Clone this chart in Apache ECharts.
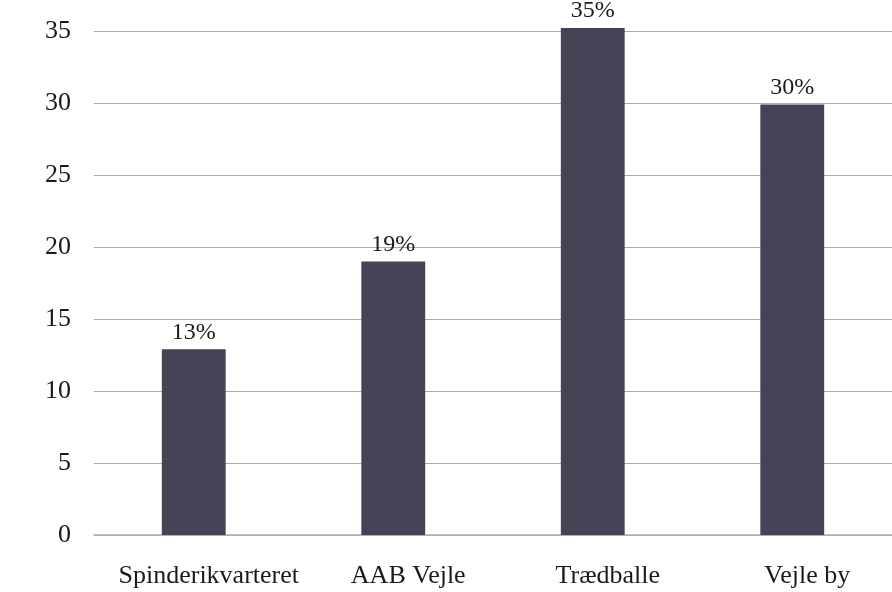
<!DOCTYPE html>
<html>
<head>
<meta charset="utf-8">
<script src="https://cdn.jsdelivr.net/npm/echarts@6/dist/echarts.min.js"></script>
<style>html,body{margin:0;padding:0;background:#fff;}#c{width:892px;height:592px;}</style>
</head>
<body>
<div id="c"></div>
<script>
const categories = ['Spinderikvarteret', 'AAB Vejle', 'Trædballe', 'Vejle by'];
const values = [12.9, 19.0, 35.2, 29.9];
const labels = ['13%', '19%', '35%', '30%'];

const chart = echarts.init(document.getElementById('c'), null, {renderer: 'canvas'});
const font = '"Liberation Serif", "Times New Roman", serif';
chart.setOption({
  animation: false,
  backgroundColor: '#ffffff',
  grid: {left: 94, right: -5, top: 31, bottom: 57, containLabel: false},
  xAxis: {
    type: 'category',
    data: categories,
    axisLine: {show: true, lineStyle: {color: '#b4aeb4', width: 1.5}},
    axisTick: {show: false},
    axisLabel: {color: '#1a1a1a', fontFamily: font, fontSize: 26, margin: 28, padding: [0, 0, 0, 30], interval: 0}
  },
  yAxis: {
    type: 'value',
    min: 0, max: 35, interval: 5,
    axisLine: {show: false},
    axisTick: {show: false},
    axisLabel: {color: '#1a1a1a', fontFamily: font, fontSize: 26, margin: 23},
    splitLine: {lineStyle: {color: '#aea8ae', width: 1}}
  },
  series: [{
    type: 'bar',
    data: values,
    clip: false,
    barWidth: '32%',
    itemStyle: {color: '#454456'},
    label: {
      show: true, position: 'top', distance: 5,
      color: '#1a1a1a', fontFamily: font, fontSize: 24,
      formatter: p => labels[p.dataIndex]
    }
  }]
});
</script>
</body>
</html>
